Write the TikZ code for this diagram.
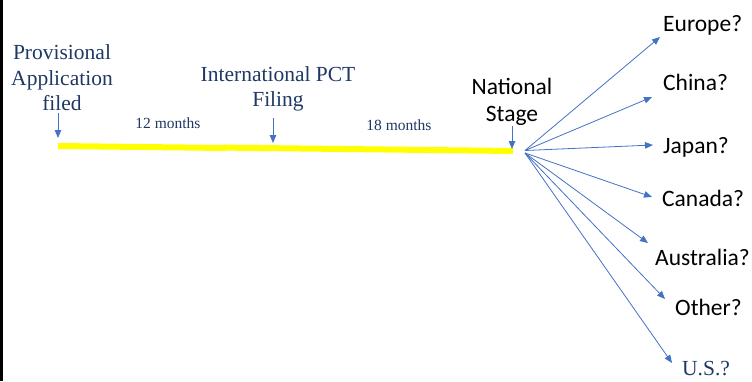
\documentclass[tikz,border=0pt]{standalone}
\usepackage{fontspec}
\setmainfont{Liberation Serif}
\newfontfamily\calibri{Carlito}
\usetikzlibrary{arrows.meta}
\definecolor{navy}{HTML}{1F3864}
\definecolor{arrblue}{HTML}{4472C4}
\definecolor{hiyellow}{HTML}{FFFF00}
\tikzset{
  serlabel/.style={font=\fontsize{21.5}{25.5}\selectfont, text=navy, inner sep=0pt, align=center},
  smalllabel/.style={font=\fontsize{15.5}{18}\selectfont, text=navy, inner sep=0pt},
  sanslabel/.style={font=\calibri\fontsize{23.5}{27}\selectfont, text=black, inner sep=0pt, align=center},
  fanarrow/.style={draw=arrblue, line width=0.8pt, -{Triangle[length=8pt,width=6.5pt]}},
  timeline/.style={draw=hiyellow, line width=6pt}
}
\begin{document}
\begin{tikzpicture}[x=1pt,y=-1pt]
\useasboundingbox (0,0) rectangle (752,381);
\fill[white] (0,0) rectangle (752,381);
% left border
\draw[line width=3pt, black] (1.5,0) -- (1.5,381);
% timeline
\coordinate (t0) at (58,146);
\coordinate (tm1) at (226,148);
\coordinate (tm2) at (224,147.6);
\coordinate (t1) at (513,151);
\draw[timeline] (t0) -- (tm1);
\draw[timeline] (tm2) -- (t1);
% text
\node[serlabel] (prov) at (62,78) {Provisional\\Application\\filed};
\node[serlabel] (pct) at (278,89) {International PCT\\Filing};
\node[smalllabel] (m12) at (168,123) {12 months};
\node[smalllabel] (m18) at (399,125) {18 months};
\node[sanslabel] (nat) at (512,101.5) {National\\Stage};
% down arrows
\coordinate (pa0) at (58,113);
\coordinate (pa1) at (58,138);
\coordinate (pb0) at (273,118);
\coordinate (pb1) at (273,143);
\coordinate (pc0) at (512,126);
\coordinate (pc1) at (512,149);
\draw[fanarrow] (pa0) -- (pa1);
\draw[fanarrow] (pb0) -- (pb1);
\draw[fanarrow] (pc0) -- (pc1);
% country labels
\node[sanslabel, anchor=west] (eu) at (663,25) {Europe?};
\node[sanslabel, anchor=west] (cn) at (663,82) {China?};
\node[sanslabel, anchor=west] (jp) at (663,147) {Japan?};
\node[sanslabel, anchor=west] (ca) at (662,198) {Canada?};
\node[sanslabel, anchor=west] (au) at (655,257) {Australia?};
\node[sanslabel, anchor=west] (ot) at (675,307) {Other?};
\node[serlabel, anchor=west] (us) at (682,369) {U.S.?};
% fan
\coordinate (fanU) at (525,150.5);
\coordinate (fanL) at (525,153);
\coordinate (eeu) at (660,37);
\coordinate (ecn) at (652,97);
\coordinate (ejp) at (653,145);
\coordinate (eca) at (652,197);
\coordinate (eau) at (648,243);
\coordinate (eot) at (665,299);
\coordinate (eus) at (672,363);
\draw[fanarrow] (fanU) -- (eeu);
\draw[fanarrow] (fanU) -- (ecn);
\draw[fanarrow] (fanU) -- (ejp);
\draw[fanarrow] (fanL) -- (eca);
\draw[fanarrow] (fanL) -- (eau);
\draw[fanarrow] (fanL) -- (eot);
\draw[fanarrow] (fanL) -- (eus);
\end{tikzpicture}
\end{document}
